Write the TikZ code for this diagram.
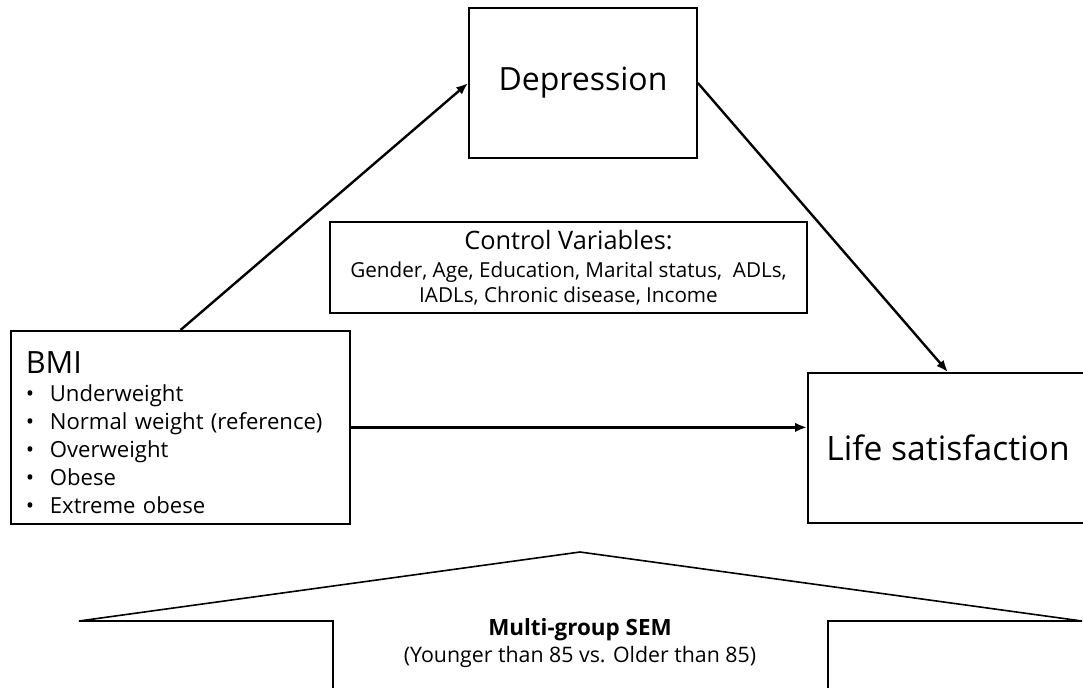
\documentclass[tikz,border=0pt]{standalone}
\usepackage{fontspec}
\setmainfont{Open Sans}
\usepackage{tikz}
\usetikzlibrary{arrows.meta, positioning, calc}

\begin{document}
\begin{tikzpicture}[
  x=0.75pt, y=-0.75pt,
  varbox/.style={rectangle, draw, line width=1.3pt, align=center, inner sep=0pt},
  effect/.style={draw, line width=1.8pt, -{Latex[length=9pt,width=7pt]}},
  roof/.style={draw, line width=1.2pt}
]
\clip (0,0) rectangle (1083,687);
\fill [white] (0,0) rectangle (1083,687);

% variables of the model
\node [varbox, minimum width=171pt, minimum height=112.5pt, font=\fontsize{24}{28}\selectfont] (depr) at (583,83) {Depression};
\node [varbox, minimum width=210pt, minimum height=112.5pt, font=\fontsize{25.2}{28}\selectfont] (life) at (948,448) {Life satisfaction};
\node [varbox, align=left, anchor=north west, text width=232pt, inner xsep=11.25pt, minimum height=144.75pt,
  font=\fontsize{16.6}{21}\selectfont] (bmi) at (10,330)
  {\rule{0pt}{25pt}{\fontsize{23}{21}\selectfont BMI}\\
   \makebox[18pt][l]{\textbullet}Underweight\\
   \makebox[18pt][l]{\textbullet}Normal weight (reference)\\
   \makebox[18pt][l]{\textbullet}Overweight\\
   \makebox[18pt][l]{\textbullet}Obese\\
   \makebox[18pt][l]{\textbullet}Extreme obese};
\node [varbox, minimum width=357.75pt, minimum height=68.25pt, font=\fontsize{15.5}{18.5}\selectfont] (ctrl) at (568.5,267.5)
  {{\fontsize{19}{18.5}\selectfont Control Variables:}\\[3pt]
   Gender, Age, Education, Marital status,~ ADLs,\\
   IADLs, Chronic disease, Income};

% paths
\draw [effect] (bmi.north) -- (depr.west);
\draw [effect] (depr.east) -- (life.north);
\draw [effect] (bmi.east) -- (bmi.east -| life.west);

% multi-group arrow
\draw [roof] (333,700) -- (333,621) -- (79,621) -- (580,552) -- (1082,621) -- (828,621) -- (828,700);
\node [align=center, font=\fontsize{16}{20.5}\selectfont] (sem) at (580,643)
  {{\fontsize{16.8}{20.5}\selectfont\bfseries Multi-group SEM}\\(Younger than 85 vs. Older than 85)};

\end{tikzpicture}
\end{document}
